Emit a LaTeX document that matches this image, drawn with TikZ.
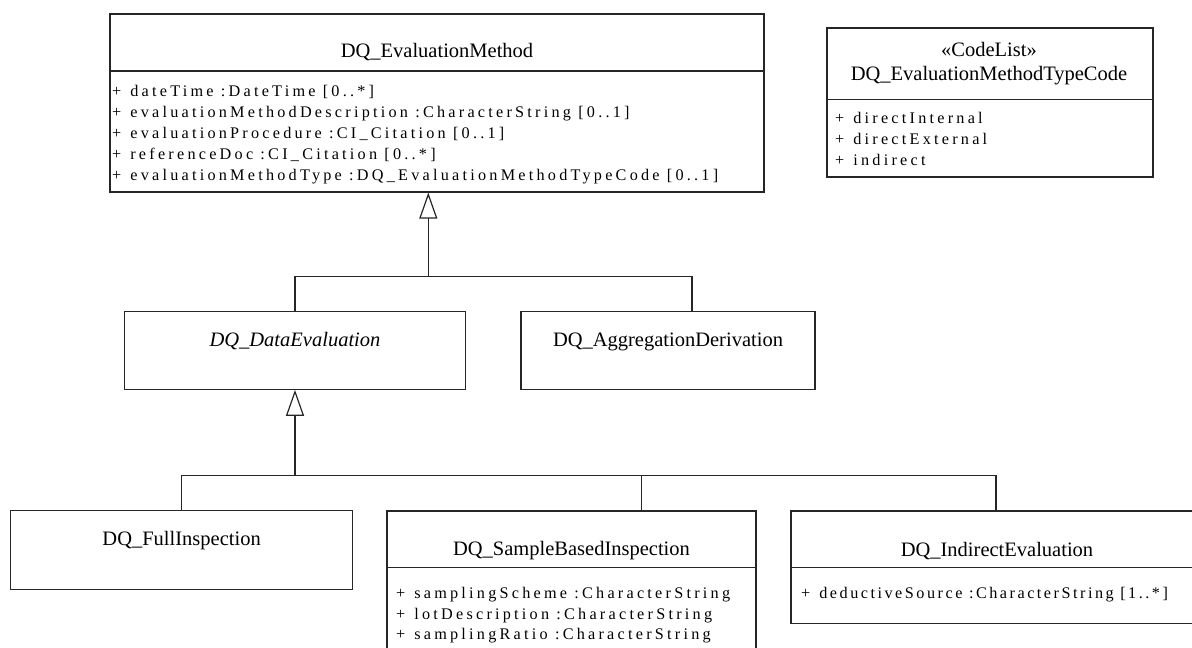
\documentclass[tikz,border=0pt]{standalone}
\usepackage{fontspec}
\setmainfont{Liberation Serif}
\newfontfamily\attrfont[LetterSpace=20]{Liberation Serif}
\newfontfamily\attrfontn[LetterSpace=15.5]{Liberation Serif}
\usetikzlibrary{arrows.meta}
\newcommand{\pl}{+\hspace{9pt}}
\begin{document}
\begin{tikzpicture}[x=1pt,y=-1pt,
  cls/.style={draw=black!85, line width=1.2pt, inner sep=0pt, fill=none},
  title/.style={font=\fontsize{20.5}{24}\selectfont, inner sep=0pt, anchor=base},
  attr/.style={font=\attrfont\fontsize{16.2}{20}\selectfont, inner sep=0pt, anchor=base west},
  sep/.style={draw=black!85, line width=1.2pt},
  conn/.style={draw=black!85, line width=1.2pt},
  gen/.style={conn, -{Triangle[open, length=26pt, width=18pt, line width=1.2pt]}}
]
\useasboundingbox (0,0) rectangle (1192,648);

% boxes
\node[cls, minimum width=654pt, minimum height=178pt] (em) at (437,103) {};
\node[cls, minimum width=326pt, minimum height=149pt] (cl) at (990,102.5) {};
\node[cls, minimum width=341pt, minimum height=77.5pt] (de) at (295,350.5) {};
\node[cls, minimum width=294pt, minimum height=77.5pt] (ad) at (668,350.5) {};
\node[cls, minimum width=342pt, minimum height=78.5pt] (fi) at (181.6,550) {};
\node[cls, minimum width=369pt, minimum height=145pt] (sb) at (571.5,583.5) {};
\node[cls, minimum width=412pt, minimum height=112.5pt] (ie) at (997,567.25) {};

% separators
\coordinate (emsep) at (0,71);
\draw[sep] (em.west |- emsep) -- (em.east |- emsep);
\coordinate (clsep) at (0,99.5);
\draw[sep] (cl.west |- clsep) -- (cl.east |- clsep);
\coordinate (bsep) at (0,567.5);
\draw[sep] (sb.west |- bsep) -- (sb.east |- bsep);
\draw[sep] (ie.west |- bsep) -- (ie.east |- bsep);

% titles
\node[title] (emt) at (437,57) {DQ\_EvaluationMethod};
\node[title] (clst) at (989,56.5) {«CodeList»};
\node[title] (clt) at (989,80) {DQ\_EvaluationMethodTypeCode};
\node[title] (det) at (295,346.7) {\itshape DQ\_DataEvaluation};
\node[title] (adt) at (668,346.7) {DQ\_AggregationDerivation};
\node[title] (fit) at (181.6,545) {DQ\_FullInspection};
\node[title] (sbt) at (571.5,555.7) {DQ\_SampleBasedInspection};
\node[title] (iet) at (997,556) {DQ\_IndirectEvaluation};

% attributes
\node[attr] (ema1) at (112,96.7) {\pl dateTime :DateTime [0..*]};
\node[attr] (ema2) at (112,117.5) {\pl evaluationMethodDescription :CharacterString [0..1]};
\node[attr] (ema3) at (112,138.3) {\pl evaluationProcedure :CI\_Citation [0..1]};
\node[attr] (ema4) at (112,159.2) {\pl referenceDoc :CI\_Citation [0..*]};
\node[attr] (ema5) at (112,180) {\pl evaluationMethodType :DQ\_EvaluationMethodTypeCode [0..1]};
\node[attr] (cla1) at (835,123.3) {\pl directInternal};
\node[attr] (cla2) at (835,144.3) {\pl directExternal};
\node[attr] (cla3) at (835,165) {\pl indirect};
\node[attr] (sba1) at (396,598.5) {\pl samplingScheme :CharacterString};
\node[attr] (sba2) at (396,619) {\pl lotDescription :CharacterString};
\node[attr] (sba3) at (396,639.5) {\pl samplingRatio :CharacterString};
\node[attr, font=\attrfontn\fontsize{16.2}{20}\selectfont] (iea1) at (801,598) {\pl deductiveSource :CharacterString [1..*]};

% generalizations
\coordinate (j1) at (428.3,276.7);
\coordinate (j2) at (295,475.5);
\coordinate (adc) at (692,0);
\coordinate (sbc) at (641.5,0);
\coordinate (iec) at (996,0);
\draw[conn] (de.north) |- (adc |- j1) -- (adc |- ad.north);
\draw[gen] (j1) -- (j1 |- em.south);
\draw[conn] (fi.north) |- (iec |- j2) -- (iec |- ie.north);
\draw[conn] (sbc |- j2) -- (sbc |- sb.north);
\draw[gen] (j2) -- (de.south);
\end{tikzpicture}
\end{document}
